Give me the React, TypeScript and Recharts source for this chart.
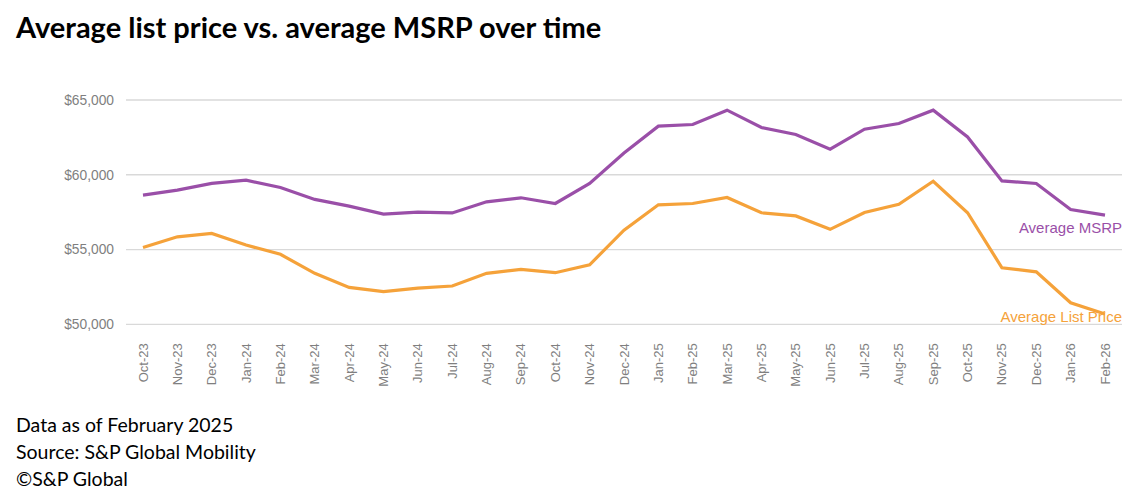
import React from 'react';
import { LineChart, Line, XAxis, YAxis, CartesianGrid } from 'recharts';

const months = [
  'Oct-23', 'Nov-23', 'Dec-23', 'Jan-24', 'Feb-24', 'Mar-24', 'Apr-24', 'May-24', 'Jun-24', 'Jul-24',
  'Aug-24', 'Sep-24', 'Oct-24', 'Nov-24', 'Dec-24', 'Jan-25', 'Feb-25', 'Mar-25', 'Apr-25', 'May-25',
  'Jun-25', 'Jul-25', 'Aug-25', 'Sep-25', 'Oct-25', 'Nov-25', 'Dec-25', 'Jan-26', 'Feb-26',
];

const avgMsrp = [
  58640, 58970, 59420, 59640, 59150, 58350, 57900, 57370, 57500, 57450,
  58190, 58460, 58080, 59420, 61460, 63250, 63360, 64320, 63160, 62690,
  61710, 63050, 63430, 64320, 62530, 59590, 59420, 57680, 57300,
];

const avgListPrice = [
  55140, 55850, 56080, 55300, 54680, 53410, 52470, 52180, 52420, 52560,
  53410, 53670, 53450, 53980, 56300, 57990, 58080, 58480, 57460, 57250,
  56350, 57480, 58020, 59570, 57460, 53780, 53510, 51440, 50690,
];

const yTicks = [50000, 55000, 60000, 65000];

const data = months.map((m, i) => ({ month: m, msrp: avgMsrp[i], list: avgListPrice[i] }));

const PURPLE = '#9a4fa8';
const ORANGE = '#f5a23a';

const fmt = (v: number) => '$' + v.toLocaleString('en-US');

const MonthTick = (props: any) => {
  const { x, y, payload } = props;
  return (
    <text
      transform={`translate(${x},${y + 11}) rotate(-90)`}
      textAnchor="end"
      dominantBaseline="central"
      fontSize={13}
      fill="#7f7f7f"
      fontFamily="Liberation Sans, Arial, sans-serif"
    >
      {payload.value}
    </text>
  );
};

const endLabel = (text: string, color: string, dy: number) => (props: any) => {
  const { index, y } = props;
  if (index !== months.length - 1) return null;
  return (
    <text
      x={1122}
      y={y + dy}
      textAnchor="end"
      fontSize={15}
      fill={color}
      fontFamily="Liberation Sans, Arial, sans-serif"
    >
      {text}
    </text>
  );
};

export default function App() {
  return (
    <div style={{ position: 'absolute', left: 0, top: 0, width: 1135, height: 502, background: '#fff', fontFamily: 'Lato, sans-serif' }}>
      <div style={{ position: 'absolute', left: 16, top: 9, fontSize: 29, fontWeight: 700, color: '#000', whiteSpace: 'nowrap' }}>
        Average list price vs. average MSRP over time
      </div>
      <div style={{ position: 'absolute', left: 0, top: 0 }}>
        <LineChart width={1135} height={400} data={data} margin={{ top: 100, right: 13, bottom: 0, left: 0 }}>
          <CartesianGrid vertical={false} stroke="#d9d9d9" strokeWidth={1.3} />
          <XAxis
            dataKey="month"
            axisLine={false}
            tickLine={false}
            interval={0}
            height={75.7}
            padding={{ left: 17, right: 17 }}
            tick={<MonthTick />}
          />
          <YAxis
            width={126}
            domain={[50000, 65000]}
            ticks={yTicks}
            axisLine={false}
            tickLine={false}
            tickFormatter={fmt}
            tickMargin={6}
            tick={{ fontSize: 13.8, fill: '#7f7f7f', fontFamily: 'Liberation Sans, Arial, sans-serif' }}
          />
          <Line
            dataKey="msrp"
            stroke={PURPLE}
            strokeWidth={3.2}
            dot={false}
            isAnimationActive={false}
            label={endLabel('Average MSRP', PURPLE, 18)}
          />
          <Line
            dataKey="list"
            stroke={ORANGE}
            strokeWidth={3.2}
            dot={false}
            isAnimationActive={false}
            label={endLabel('Average List Price', ORANGE, 8)}
          />
        </LineChart>
      </div>
      <div style={{ position: 'absolute', left: 16, top: 411, fontSize: 19.5, lineHeight: '27px', color: '#000' }}>
        <div>Data as of February 2025</div>
        <div>Source: S&amp;P Global Mobility</div>
        <div>©S&amp;P Global</div>
      </div>
    </div>
  );
}
